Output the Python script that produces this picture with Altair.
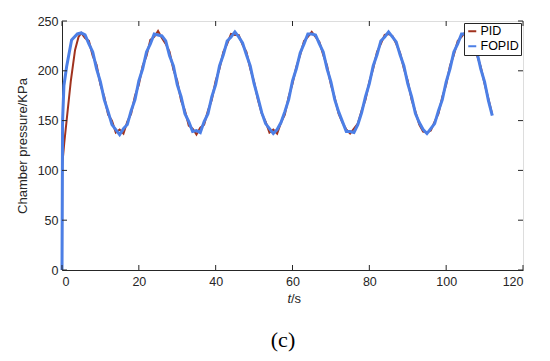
import altair as alt
import pandas as pd

# ---- data ----
pid_t_start = [0, 0.05, 0.6, 1.2, 2.3, 3.4, 4.3, 5]
pid_v_start = [0, 105, 128, 150, 190, 221, 234, 238]
fopid_t_start = [0, 0.15, 0.5, 1.2, 2.5, 4.0, 5]
fopid_v_start = [0, 150, 185, 204, 231, 237, 238]

t_main = list(range(6, 113))
pid_main = [
    233, 230, 215, 206, 186, 174, 156, 150, 138, 141, 137, 149, 157, 175, 186, 205, 215, 231, 234, 240,
    233, 227, 219, 201, 190, 170, 160, 145, 142, 136, 143, 146, 160, 171, 190, 202, 219, 227, 237, 236,
    236, 226, 219, 202, 189, 171, 157, 149, 138, 141, 137, 148, 156, 174, 187, 204, 216, 230, 234, 239,
    234, 229, 216, 205, 186, 173, 157, 148, 141, 137, 142, 147, 160, 171, 189, 202, 219, 227, 236, 237,
    235, 227, 218, 202, 190, 171, 159, 146, 139, 138, 140, 149, 157, 174, 186, 205, 216, 230, 234, 239,
    234, 229, 216, 204, 187, 172, 156,
]
fopid_main = [
    236, 227, 219, 202, 189, 171, 159, 146, 141, 136, 142, 146, 160, 171, 190, 202, 219, 227, 237, 236,
    235, 230, 215, 205, 186, 174, 157, 149, 139, 140, 138, 149, 157, 174, 186, 205, 216, 230, 234, 239,
    234, 228, 216, 205, 187, 173, 158, 147, 142, 137, 141, 148, 159, 171, 190, 202, 218, 227, 237, 237,
    236, 227, 219, 202, 189, 171, 159, 149, 139, 139, 138, 146, 158, 174, 187, 205, 216, 230, 234, 239,
    234, 229, 216, 205, 187, 174, 157, 148, 141, 137, 142, 147, 160, 171, 189, 202, 219, 227, 237, 237,
    236, 227, 219, 202, 189, 170, 155,
]

series_names = ["PID", "FOPID"]
series_colors = ["#A0321E", "#4C7FE6"]
x_ticks = [0, 20, 40, 60, 80, 100, 120]
y_ticks = [0, 50, 100, 150, 200, 250]

pid_df = pd.DataFrame({"t": pid_t_start + t_main, "p": pid_v_start + pid_main, "s": "PID"})
fopid_df = pd.DataFrame({"t": fopid_t_start + t_main, "p": fopid_v_start + fopid_main, "s": "FOPID"})

W, H = 461, 249
FONT = "Liberation Sans"
TXT = "#262626"

xs = alt.Scale(domain=[0, 120], nice=False)
ys = alt.Scale(domain=[0, 250], nice=False)
cs = alt.Scale(domain=series_names, range=series_colors)

legend = alt.Legend(
    orient="top-right", title=None, strokeColor=TXT, fillColor="white",
    padding=2, offset=2, symbolType="stroke", symbolSize=64,
    symbolStrokeWidth=2, labelFontSize=12.5, labelFont=FONT, labelColor="black",
    rowPadding=2, labelOffset=2,
)

xaxis = alt.Axis(values=x_ticks, tickSize=0, labelFontSize=12.5, labelFont=FONT,
                 labelColor=TXT, domainColor=TXT, labelPadding=5, grid=False, title=None)
yaxis = alt.Axis(values=y_ticks, tickSize=0, labelFontSize=12.5, labelFont=FONT,
                 labelColor=TXT, domainColor=TXT, labelPadding=4, grid=False,
                 title="Chamber pressure/KPa", titleFont=FONT, titleFontSize=13,
                 titleFontWeight="normal", titleColor=TXT, titlePadding=8)

pid_line = alt.Chart(pid_df).mark_line(strokeWidth=2).encode(
    x=alt.X("t:Q", scale=xs, axis=xaxis),
    y=alt.Y("p:Q", scale=ys, axis=yaxis),
    color=alt.Color("s:N", scale=cs, legend=legend),
)
fopid_line = alt.Chart(fopid_df).mark_line(strokeWidth=3).encode(
    x=alt.X("t:Q", scale=xs),
    y=alt.Y("p:Q", scale=ys),
    color=alt.Color("s:N", scale=cs, legend=legend),
)

xt = pd.DataFrame({"v": x_ticks})
yt = pd.DataFrame({"v": y_ticks})
xb = alt.Chart(xt).mark_rule(color=TXT).encode(x="v:Q", y=alt.value(H), y2=alt.value(H - 5))
xtop = alt.Chart(xt).mark_rule(color=TXT).encode(x="v:Q", y=alt.value(0), y2=alt.value(5))
yl = alt.Chart(yt).mark_rule(color=TXT).encode(y="v:Q", x=alt.value(0), x2=alt.value(5))
yr = alt.Chart(yt).mark_rule(color=TXT).encode(y="v:Q", x=alt.value(W - 5), x2=alt.value(W))

t_lab = alt.Chart(pd.DataFrame({"a": ["t"]})).mark_text(
    text="t", font=FONT, fontSize=13, fontStyle="italic", color=TXT, align="right", baseline="middle"
).encode(x=alt.value(229), y=alt.value(278))
s_lab = alt.Chart(pd.DataFrame({"a": ["s"]})).mark_text(
    text="/s", font=FONT, fontSize=13, color=TXT, align="left", baseline="middle"
).encode(x=alt.value(229), y=alt.value(278))
c_lab = alt.Chart(pd.DataFrame({"a": ["c"]})).mark_text(
    text="(c)", font="Liberation Serif", fontSize=22, color="black", align="center", baseline="middle"
).encode(x=alt.value(221), y=alt.value(319))

chart = alt.layer(
    pid_line, fopid_line, xb, xtop, yl, yr, t_lab, s_lab, c_lab
).properties(
    width=W, height=H,
    autosize=alt.AutoSizeParams(type="none"),
    padding={"left": 54, "top": 13, "right": 19, "bottom": 83},
).configure_view(stroke=TXT, strokeWidth=1).configure(background="white")

chart.save("out.html", embed_options={"renderer": "svg", "actions": False})
